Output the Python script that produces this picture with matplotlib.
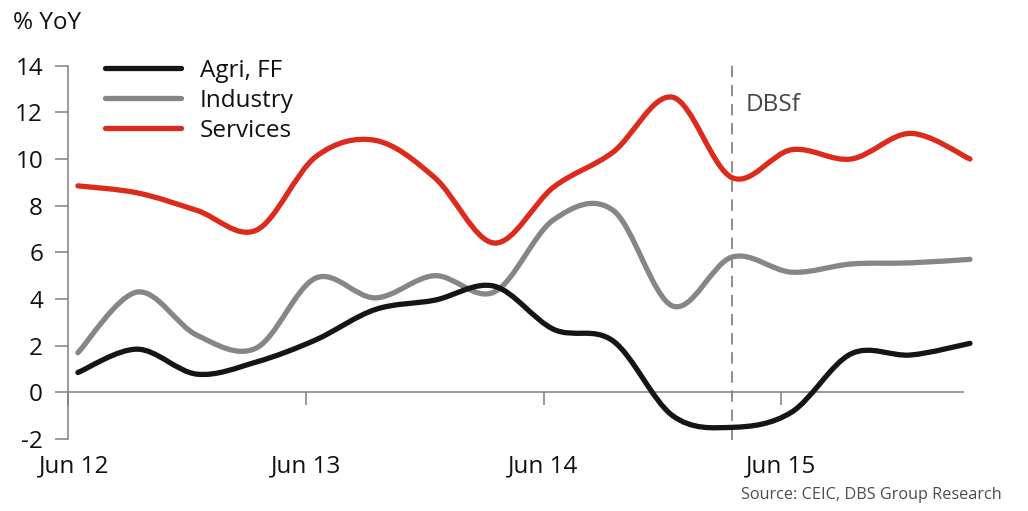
import matplotlib.pyplot as plt
from matplotlib.path import Path
from matplotlib.patches import PathPatch
from matplotlib.lines import Line2D

plt.rcParams['font.family'] = ['Open Sans', 'DejaVu Sans']
plt.rcParams['axes.unicode_minus'] = False

quarters = ["Jun 12", "Sep 12", "Dec 12", "Mar 13", "Jun 13", "Sep 13", "Dec 13", "Mar 14",
            "Jun 14", "Sep 14", "Dec 14", "Mar 15", "Jun 15", "Sep 15", "Dec 15", "Mar 16"]
agri = [0.85, 1.85, 0.78, 1.3, 2.25, 3.55, 3.95, 4.55, 2.7, 2.2, -1.0, -1.5, -0.85, 1.65, 1.6, 2.1]
industry = [1.7, 4.3, 2.45, 1.9, 4.9, 4.05, 5.0, 4.3, 7.4, 7.8, 3.7, 5.8, 5.15, 5.5, 5.55, 5.7]
services = [8.85, 8.55, 7.8, 6.95, 10.1, 10.8, 9.2, 6.4, 8.8, 10.3, 12.65, 9.2, 10.4, 10.0, 11.1, 10.0]
forecast_start = "Mar 15"
xtick_labels = ["Jun 12", "Jun 13", "Jun 14", "Jun 15"]
yticks = [-2, 0, 2, 4, 6, 8, 10, 12, 14]

RED = "#dc2a1d"
GREY = "#868686"
BLACK = "#151515"
AXIS = "#7f7f7f"
LW = 3.8
FS = 17.5


def smooth_path(ys):
    # cubic bezier through every point, catmull-rom style control points
    pts = list(enumerate(ys))
    n = len(pts)
    verts = [pts[0]]
    codes = [Path.MOVETO]
    for i in range(n - 1):
        p0 = pts[max(i - 1, 0)]
        p1 = pts[i]
        p2 = pts[i + 1]
        p3 = pts[min(i + 2, n - 1)]
        c1 = (p1[0] + (p2[0] - p0[0]) / 6, p1[1] + (p2[1] - p0[1]) / 6)
        c2 = (p2[0] - (p3[0] - p1[0]) / 6, p2[1] - (p3[1] - p1[1]) / 6)
        verts += [c1, c2, p2]
        codes += [Path.CURVE4] * 3
    return Path(verts, codes)


fig = plt.figure(figsize=(10.28, 5.11), dpi=100)
ax = fig.add_axes([0.06595, 0.1409, 0.8834, 0.7305])
ax.set_xlim(-0.15, 15.1)
ax.set_ylim(-2, 14)

series = [("Agri, FF", agri, BLACK, 5), ("Industry", industry, GREY, 4), ("Services", services, RED, 3)]
for name, ys, color, z in series:
    ax.add_patch(PathPatch(smooth_path(ys), fill=False, edgecolor=color, lw=LW,
                           capstyle="round", joinstyle="round", zorder=z, clip_on=False))

# forecast marker
fx = quarters.index(forecast_start)
ax.vlines(fx, -2.04, 14.1, colors="#6f6f6f", lw=1.1, linestyles=(0, (7.5, 5.0)), zorder=2, clip_on=False)
ax.text(fx + 0.22, 12.32, "DBSf", ha="left", va="center", fontsize=FS, color="#454545")

# axes
for s in ["top", "right"]:
    ax.spines[s].set_visible(False)
ax.spines["left"].set_color(AXIS)
ax.spines["left"].set_linewidth(1.1)
ax.spines["left"].set_bounds(-2, 14)
ax.spines["bottom"].set_position(("data", 0))
ax.spines["bottom"].set_color(AXIS)
ax.spines["bottom"].set_linewidth(1.1)
ax.spines["bottom"].set_bounds(-0.15, 14.88)

ax.set_yticks(yticks)
ax.set_yticklabels([str(v) for v in yticks])
ax.tick_params(axis="y", direction="out", length=9.4, width=1.1, color=AXIS, pad=8.4,
               labelsize=FS, labelcolor="#111111")

tick_offset = -0.17
xt = [quarters.index(l) + tick_offset for l in xtick_labels]
ax.set_xticks(xt)
ax.set_xticklabels([])
ax.tick_params(axis="x", direction="out", length=9.4, width=1.1, color=AXIS)
for pos, lab in zip(xt, xtick_labels):
    ax.text(max(pos, -0.07), -3.41, lab, ha="center", va="baseline", fontsize=FS,
            color="#111111", clip_on=False)

handles = [Line2D([], [], color=c, lw=LW, solid_capstyle="round") for _, _, c, _ in series]
leg = ax.legend(handles, [s[0] for s in series], loc="upper left",
                bbox_to_anchor=(105 / 1028, 1 - 59 / 511), bbox_transform=fig.transFigure,
                frameon=False, fontsize=FS, handlelength=3.13, handletextpad=0.78,
                labelspacing=0.24, borderpad=0, borderaxespad=0)
for t in leg.get_texts():
    t.set_color("#111111")

fig.text(13 / 1028, 1 - 23 / 511, "% YoY", ha="left", va="center", fontsize=FS, color="#111111")
fig.text(1002 / 1028, 1 - 495 / 511, "Source: CEIC, DBS Group Research", ha="right", va="center",
         fontsize=11.7, color="#4d4d4d")

fig.savefig("out.png", dpi=100)
